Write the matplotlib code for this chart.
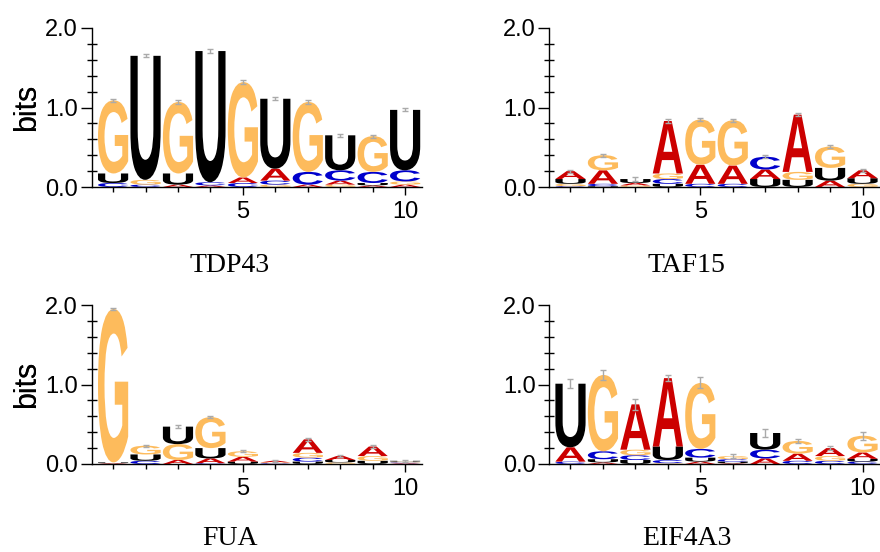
import numpy as np
import matplotlib
matplotlib.use('Agg')
import matplotlib.pyplot as plt
import matplotlib.transforms as mtransforms
from matplotlib.textpath import TextPath
from matplotlib.patches import PathPatch
from matplotlib.font_manager import FontProperties
from matplotlib.ticker import MultipleLocator

positions = np.arange(1, 11)

# letter heights (bits) per position, read from the logos
tdp43_A = [0.00, 0.00, 0.03, 0.02, 0.07, 0.15, 0.03, 0.05, 0.02, 0.03]
tdp43_C = [0.05, 0.03, 0.00, 0.04, 0.05, 0.05, 0.16, 0.13, 0.14, 0.14]
tdp43_G = [0.92, 0.06, 0.90, 0.00, 1.20, 0.03, 0.88, 0.03, 0.45, 0.04]
tdp43_U = [0.12, 1.56, 0.14, 1.65, 0.00, 0.88, 0.00, 0.44, 0.03, 0.76]
tdp43_err = [0.02] * 10

taf15_A = [0.10, 0.17, 0.03, 0.66, 0.24, 0.23, 0.12, 0.72, 0.08, 0.10]
taf15_C = [0.01, 0.03, 0.00, 0.06, 0.04, 0.04, 0.16, 0.00, 0.00, 0.00]
taf15_G = [0.03, 0.19, 0.02, 0.07, 0.57, 0.57, 0.00, 0.10, 0.27, 0.04]
taf15_U = [0.06, 0.01, 0.05, 0.04, 0.00, 0.00, 0.10, 0.09, 0.16, 0.07]
taf15_err = [0.02] * 10

fua_A = [0.01, 0.00, 0.05, 0.06, 0.06, 0.02, 0.17, 0.05, 0.12, 0.01]
fua_C = [0.00, 0.04, 0.00, 0.01, 0.00, 0.01, 0.05, 0.00, 0.00, 0.01]
fua_G = [1.93, 0.11, 0.20, 0.39, 0.07, 0.01, 0.06, 0.02, 0.06, 0.01]
fua_U = [0.01, 0.08, 0.22, 0.13, 0.03, 0.00, 0.03, 0.03, 0.04, 0.01]
fua_err = [0.015] * 10

eif4a3_A = [0.18, 0.02, 0.57, 0.86, 0.03, 0.01, 0.07, 0.09, 0.10, 0.08]
eif4a3_C = [0.03, 0.10, 0.06, 0.04, 0.11, 0.03, 0.11, 0.04, 0.04, 0.03]
eif4a3_G = [0.00, 0.96, 0.07, 0.01, 0.83, 0.04, 0.00, 0.16, 0.06, 0.21]
eif4a3_U = [0.80, 0.04, 0.05, 0.17, 0.05, 0.02, 0.21, 0.00, 0.00, 0.035]
eif4a3_err = [0.055, 0.06, 0.07, 0.035, 0.07, 0.03, 0.045, 0.03, 0.025, 0.05]

names = ['TDP43', 'TAF15', 'FUA', 'EIF4A3']
colors = {'A': '#CC0000', 'C': '#0000CC', 'G': '#FDBB5C', 'U': '#000000'}

letter_font = FontProperties(family='Liberation Sans', weight='bold')


def draw_letter(ax, ch, x, y, w, h, color):
    tp = TextPath((0, 0), ch, size=1, prop=letter_font)
    bb = tp.get_extents()
    t = (mtransforms.Affine2D().translate(-bb.x0, -bb.y0)
         .scale(w / bb.width, h / bb.height).translate(x - w / 2, y))
    ax.add_patch(PathPatch(t.transform_path(tp), fc=color, ec='none', lw=0))


def draw_logo(ax, A, C, G, U, err):
    totals = []
    for i, x in enumerate(positions):
        stack = sorted([('A', A[i]), ('C', C[i]), ('G', G[i]), ('U', U[i])], key=lambda p: p[1])
        y = 0.0
        for ch, h in stack:
            if h > 0:
                draw_letter(ax, ch, x, y, 0.93, h, colors[ch])
                y += h
        totals.append(y)
    ax.errorbar(positions, totals, yerr=err, fmt='none', ecolor='#aaaaaa',
                elinewidth=1, capsize=2.5, capthick=1, zorder=5)


fig = plt.figure(figsize=(8.8, 5.52), dpi=100)
tick_font = 'Liberation Sans'

data = [(tdp43_A, tdp43_C, tdp43_G, tdp43_U, tdp43_err),
        (taf15_A, taf15_C, taf15_G, taf15_U, taf15_err),
        (fua_A, fua_C, fua_G, fua_U, fua_err),
        (eif4a3_A, eif4a3_C, eif4a3_G, eif4a3_U, eif4a3_err)]

for k in range(4):
    col, row = k % 2, k // 2
    left_px = 92 + 457.4 * col
    bottom_px = 187 + 277 * row
    ax = fig.add_axes([left_px / 880, 1 - bottom_px / 552, 330 / 880, 159 / 552])
    draw_logo(ax, *data[k])
    ax.set_xlim(0.35, 10.52)
    ax.set_ylim(0, 2)
    for s in ['top', 'right']:
        ax.spines[s].set_visible(False)
    for s in ['left', 'bottom']:
        ax.spines[s].set_linewidth(1.0)
    ax.set_yticks([0, 1, 2])
    ax.set_yticklabels(['0.0', '1.0', '2.0'])
    ax.yaxis.set_minor_locator(MultipleLocator(0.2))
    ax.set_xticks([5, 10])
    ax.xaxis.set_minor_locator(MultipleLocator(1))
    ax.tick_params(axis='y', which='major', direction='out', length=8, width=1, pad=2)
    ax.tick_params(axis='y', which='minor', direction='inout', length=6.5, width=1)
    ax.tick_params(axis='x', which='major', direction='out', length=6, width=1, pad=4)
    ax.tick_params(axis='x', which='minor', direction='out', length=3.5, width=1)
    for lab in ax.get_xticklabels() + ax.get_yticklabels():
        lab.set_fontfamily(tick_font)
        lab.set_fontsize(17)
    ax.text((27 - left_px) / 330, 0.5, 'bits', transform=ax.transAxes, rotation=90,
            ha='center', va='center', fontsize=22, family=tick_font)
    title_base = 272 if row == 0 else 545
    fig.text((229.5 + 457.4 * col) / 880, 1 - title_base / 552, names[k],
             ha='center', va='baseline', fontsize=20, family='Liberation Serif')

fig.savefig('out.png', dpi=100)
